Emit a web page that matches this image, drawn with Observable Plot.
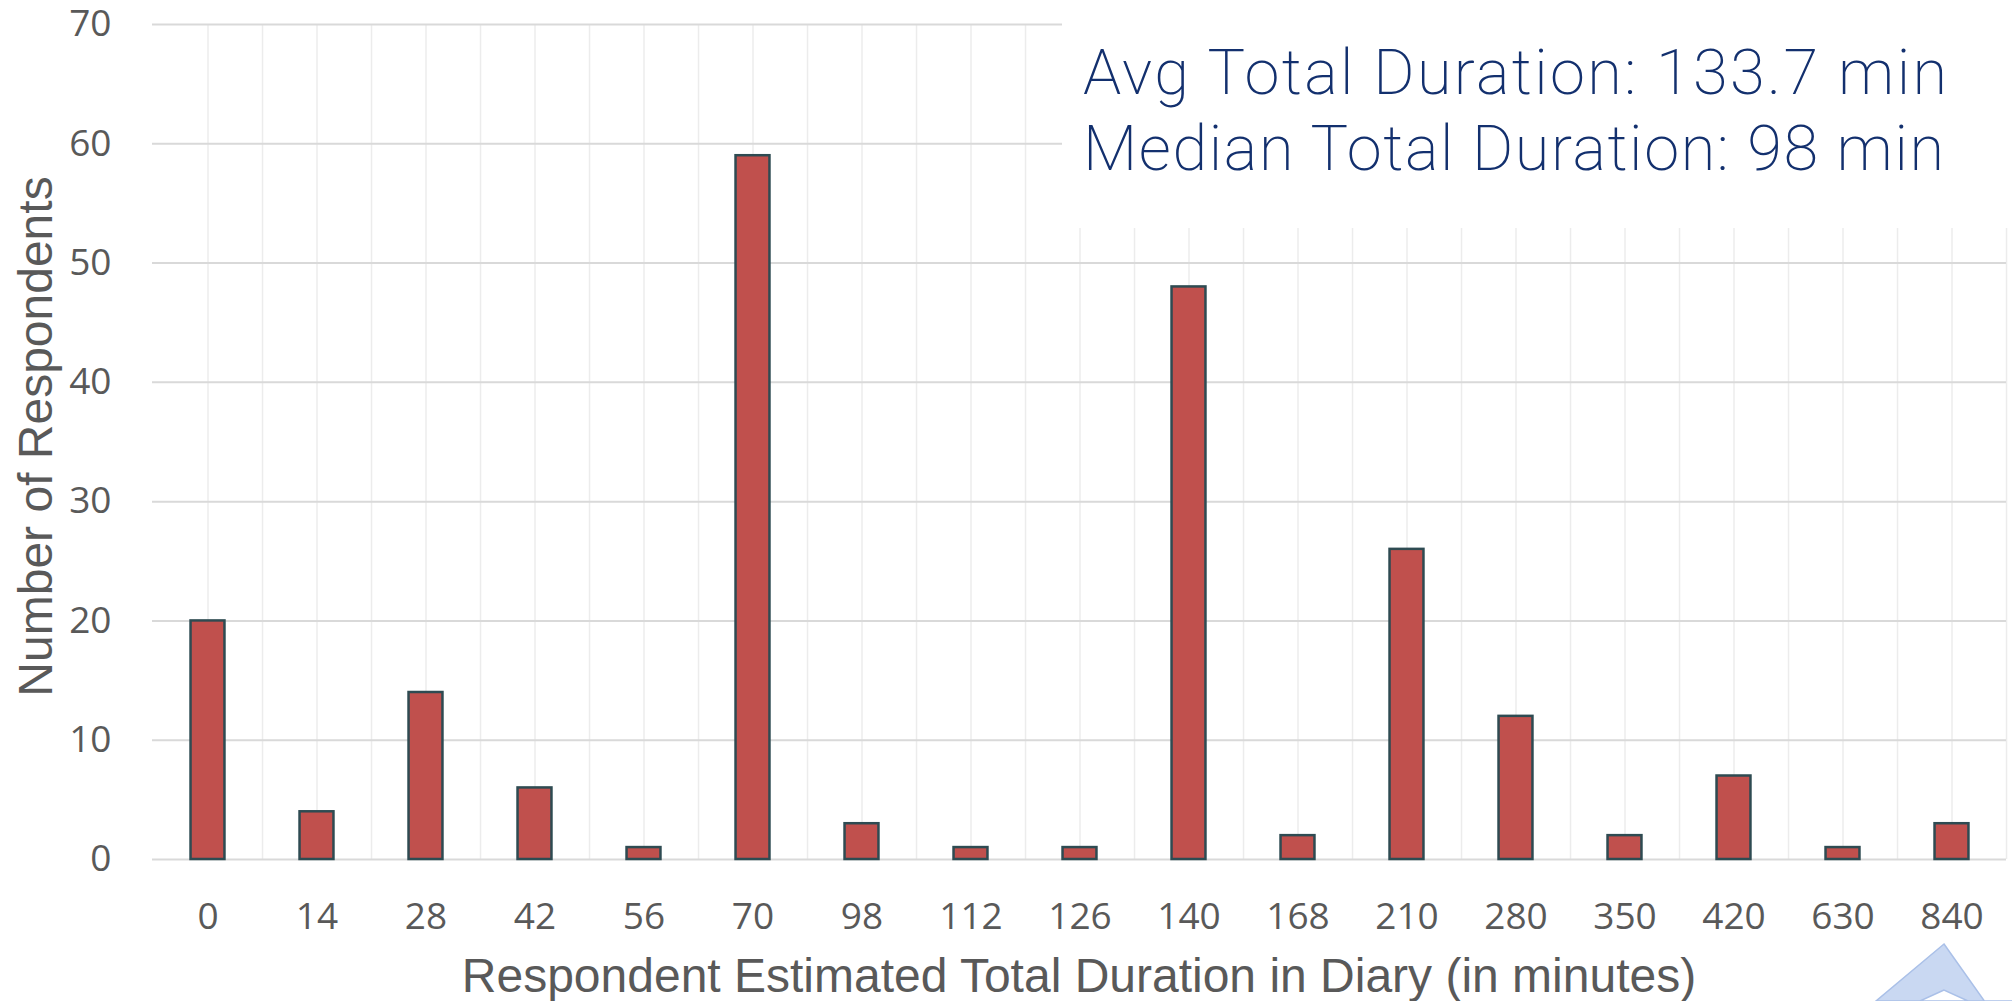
<!DOCTYPE html>
<html><head><meta charset="utf-8">
<script src="https://cdn.jsdelivr.net/npm/d3@7"></script>
<script src="https://cdn.jsdelivr.net/npm/@observablehq/plot@0.6"></script>
<style>
html,body{margin:0;padding:0;background:#fff;}
#chart{width:2012px;height:1001px;overflow:hidden;}
</style></head><body><div id="chart"></div>
<script>
const categories = ["0","14","28","42","56","70","98","112","126","140","168","210","280","350","420","630","840"];
const counts = [20,4,14,6,1,59,3,1,1,48,2,26,12,2,7,1,3];
const yTicks = [0,10,20,30,40,50,60,70];
const xTitle = "Respondent Estimated Total Duration in Diary (in minutes)";
const yTitle = "Number of Respondents";
const annotations = ["Avg Total Duration: 133.7 min", "Median Total Duration: 98 min"];

const data = categories.map((c, i) => ({duration: c, count: counts[i]}));
const W = 2012, H = 1001, mL = 152, mR = 6, mT = 24, mB = 142;
const step = (W - mL - mR) / categories.length;
const barWidth = 34;
const inset = (step - barWidth) / 2;

const plot = Plot.plot({
  width: W, height: H,
  marginLeft: mL, marginRight: mR, marginTop: mT, marginBottom: mB,
  style: {fontFamily: "'Open Sans', sans-serif", fontSize: "37px", color: "#595959", background: "#fff"},
  x: {type: "band", domain: categories, paddingInner: 0, paddingOuter: 0, align: 0.5, tickSize: 0, tickPadding: 43, label: null},
  y: {domain: [0, 70], ticks: yTicks, tickSize: 0, tickPadding: 41, label: null},
  marks: [
    Plot.ruleX(categories, {x: d => d, stroke: "#ececec", strokeWidth: 1.5}),
    Plot.ruleX(categories, {x: d => d, dx: step / 2, stroke: "#ececec", strokeWidth: 1.5}),
    Plot.ruleY(yTicks, {y: d => d, stroke: "#d9d9d9", strokeWidth: 2}),
    Plot.barY(data, {x: "duration", y: "count", fill: "#C0504D", stroke: "#2E4B52", strokeWidth: 2.5, insetLeft: inset, insetRight: inset})
  ]
});
document.getElementById("chart").appendChild(plot);

const svg = d3.select(plot);
// titles
svg.append("text")
  .attr("x", mL + (W - mL - mR) / 2).attr("y", 992)
  .attr("text-anchor", "middle")
  .style("font-family", "'Liberation Sans', Arial, sans-serif")
  .style("font-size", "48px").attr("fill", "#595959")
  .text(xTitle);
svg.append("text")
  .attr("transform", `translate(52,${(mT + H - mB) / 2 - 5}) rotate(-90)`)
  .attr("text-anchor", "middle")
  .style("font-family", "'Liberation Sans', Arial, sans-serif")
  .style("font-size", "48px").attr("fill", "#595959")
  .text(yTitle);
// annotation box
svg.append("rect").attr("x", 1062).attr("y", 0).attr("width", W - 1062).attr("height", 228).attr("fill", "#fff");
annotations.forEach((t, i) => {
  svg.append("text")
    .attr("x", 1083).attr("y", 94 + i * 76)
    .attr("text-anchor", "start")
    .attr("textLength", i === 0 ? 864 : 861).attr("lengthAdjust", "spacing")
    .style("font-family", "Roboto, 'Open Sans', sans-serif")
    .style("font-weight", 200)
    .style("font-size", "63px").attr("fill", "#13306e")
    .text(t);
});
// faint logo fragment in the bottom-right corner
svg.append("path")
  .attr("d", "M1944,944 L2012,1040 L2012,1001 L1876,1001 Z M1944,990 L1920,1001 L1968,1001 Z")
  .attr("fill", "#c9d8f2").attr("fill-rule", "evenodd").attr("stroke", "#aac0e8").attr("stroke-width", 1.5);
</script></body></html>
